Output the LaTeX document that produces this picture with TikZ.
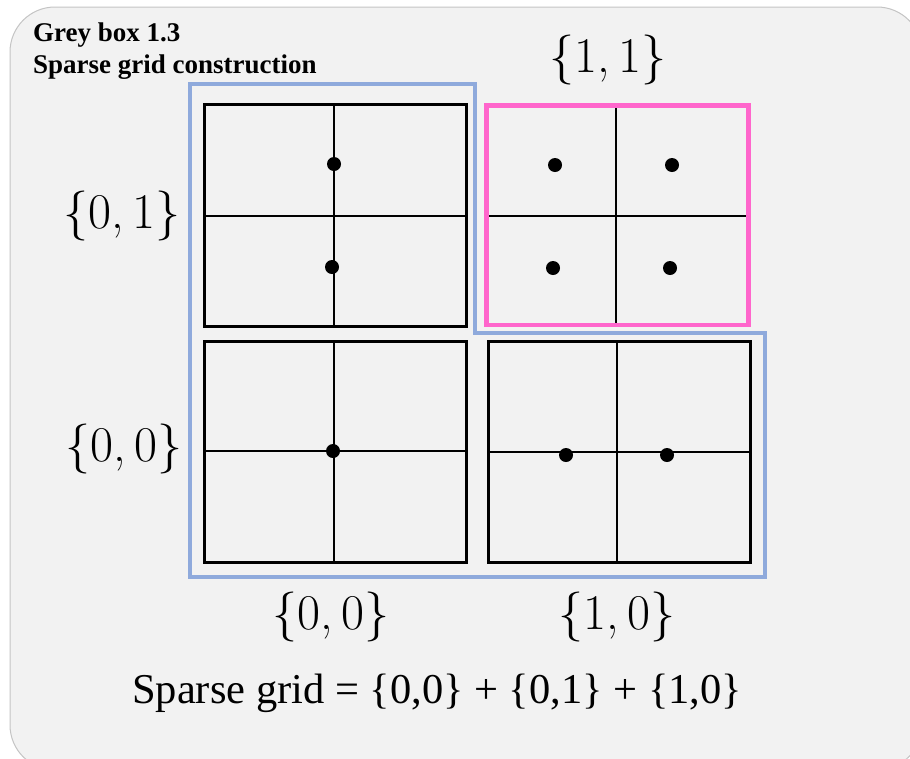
\documentclass[tikz,border=0pt]{standalone}
\usepackage{fontspec}
\newfontfamily\titlefont{Liberation Serif}
\newfontfamily\lmfont{Latin Modern Roman}
\definecolor{boxgrey}{HTML}{F2F2F2}
\definecolor{boxedge}{HTML}{C4C4C4}
\definecolor{sgblue}{HTML}{8FAADC}
\definecolor{sgpink}{HTML}{FF66CC}
\tikzset{
  cellframe/.style={draw=black, line width=3pt},
  cellline/.style={draw=black, line width=1.4pt},
  gridpt/.style={fill=black},
  setlabel/.style={inner sep=0pt, font=\lmfont\fontsize{50}{56}\selectfont},
}
\begin{document}
\begin{tikzpicture}[x=1pt, y=-1pt]
\useasboundingbox (0,0) rectangle (910,758);
\begin{scope}
\clip (0,0) rectangle (910,758);
\draw[boxedge, fill=boxgrey, line width=1pt, rounded corners=45pt] (10,7) rectangle (922,770);
\end{scope}
% title
\node[anchor=base west, inner sep=0pt, font=\titlefont\bfseries\fontsize{27}{32}\selectfont] (t1) at (33,41) {Grey box 1.3};
\node[anchor=base west, inner sep=0pt, font=\titlefont\bfseries\fontsize{27}{32}\selectfont] (t2) at (33,73) {Sparse grid construction};
% blue outline
\draw[sgblue, line width=4pt] (190,84) -- (475,84) -- (475,333) -- (765,333) -- (765,577) -- (190,577) -- cycle;
% top-left {0,1}
\draw[cellline] (334,104) -- (334,326) (204,216) -- (466,216);
\draw[cellframe] (204,104) rectangle (466,326);
\fill[gridpt] (334,164) circle (7pt) (332,267) circle (7pt);
% top-right {1,1}
\draw[cellline] (616,104) -- (616,326) (486,216) -- (749,216);
\draw[sgpink, line width=4.5pt] (486.5,105.5) rectangle (748.5,325);
\fill[gridpt] (555,165) circle (7pt) (672,165) circle (7pt) (553,268) circle (7pt) (670,268) circle (7pt);
% bottom-left {0,0}
\draw[cellline] (334,341) -- (334,562) (204,451) -- (466,451);
\draw[cellframe] (204,341) rectangle (466,562);
\fill[gridpt] (333,451) circle (7pt);
% bottom-right {1,0}
\draw[cellline] (617,341) -- (617,562) (488,452) -- (750,452);
\draw[cellframe] (488,341) rectangle (750,562);
\fill[gridpt] (566,455) circle (7pt) (667,455) circle (7pt);
% labels
\node[setlabel] (l11) at (608,60) {\{1,\,1\}};
\node[setlabel] (l01) at (122,216) {\{0,\,1\}};
\node[setlabel] (l00) at (124,449) {\{0,\,0\}};
\node[setlabel] (b00) at (331,617) {\{0,\,0\}};
\node[setlabel] (b10) at (617,617) {\{1,\,0\}};
% formula
\node[anchor=base west, inner sep=0pt, font=\titlefont\fontsize{42.5}{48}\selectfont] (f) at (132,703) {Sparse grid = \{0,0\} + \{0,1\} + \{1,0\}};
\end{tikzpicture}
\end{document}
